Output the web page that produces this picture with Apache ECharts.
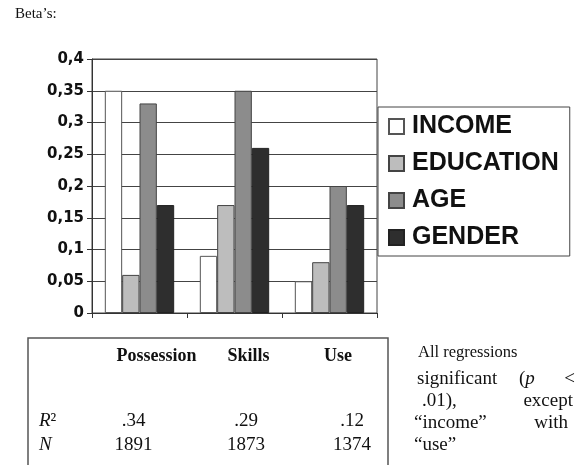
<!DOCTYPE html>
<html>
<head>
<meta charset="utf-8">
<script src="https://cdn.jsdelivr.net/npm/echarts@6/dist/echarts.min.js"></script>
<style>
  html, body { margin: 0; padding: 0; background: #fff; }
  #chart { width: 575px; height: 465px; }
</style>
</head>
<body>
<div id="chart"></div>
<script>
// ---- data ----
const categories = ['Possession', 'Skills', 'Use'];
const seriesNames = ['INCOME', 'EDUCATION', 'AGE', 'GENDER'];
const income = [0.35, 0.09, 0.05];
const education = [0.06, 0.17, 0.08];
const age = [0.33, 0.35, 0.20];
const gender = [0.17, 0.26, 0.17];
const rSquared = ['.34', '.29', '.12'];
const nValues = ['1891', '1873', '1374'];
const yMin = 0, yMax = 0.4, yStep = 0.05;
const titleText = 'Beta\u2019s:';

// ---- styling / layout ----
const fills = ['#ffffff', '#bdbdbd', '#8c8c8c', '#2e2e2e'];
const borders = ['#555555', '#444444', '#444444', '#222222'];
const values = [income, education, age, gender];

const serif = '"Liberation Serif", "Times New Roman", serif';
const headerX = [156.5, 248.5, 338];
const valueX = [133.5, 246, 352];

function txt(x, y, text, font, align, extra) {
  return Object.assign({
    type: 'text', x: x, y: y, silent: true,
    style: {
      text: text, font: font, fill: '#111',
      align: align || 'left', textAlign: align || 'left',
      verticalAlign: 'middle', textVerticalAlign: 'middle'
    }
  }, extra || {});
}

const graphics = [];
graphics.push(txt(15, 14, titleText, '15px ' + serif));
// table box (bottom edge falls outside the view)
graphics.push({
  type: 'rect', silent: true,
  shape: { x: 28, y: 338, width: 360, height: 150 },
  style: { fill: 'none', stroke: '#555', lineWidth: 1.5 }
});
categories.forEach(function (c, i) {
  graphics.push(txt(headerX[i], 356, c, 'bold 18px ' + serif, 'center'));
  graphics.push(txt(valueX[i], 421, rSquared[i], '19px ' + serif, 'center'));
  graphics.push(txt(valueX[i], 445, nValues[i], '19px ' + serif, 'center'));
});
graphics.push({
  type: 'text', x: 39, y: 421, silent: true,
  style: {
    text: '{i|R}{n|\u00b2}', verticalAlign: 'middle', textVerticalAlign: 'middle',
    rich: { i: { font: 'italic 19px ' + serif, fill: '#111' }, n: { font: '19px ' + serif, fill: '#111' } }
  }
});
graphics.push(txt(39, 445, 'N', 'italic 19px ' + serif));

// note on the right
graphics.push(txt(418, 353, 'All regressions', '16.5px ' + serif));
graphics.push(txt(417, 379, 'significant', '19px ' + serif));
graphics.push({
  type: 'text', x: 519, y: 379, silent: true,
  style: {
    text: '{n|(}{i|p}', verticalAlign: 'middle', textVerticalAlign: 'middle',
    rich: { i: { font: 'italic 19px ' + serif, fill: '#111' }, n: { font: '19px ' + serif, fill: '#111' } }
  }
});
graphics.push(txt(575, 379, '<', '19px ' + serif, 'right'));
graphics.push(txt(422, 401, '.01),', '19px ' + serif));
graphics.push(txt(573, 401, 'except', '19px ' + serif, 'right'));
graphics.push(txt(414, 423, '\u201cincome\u201d', '19px ' + serif));
graphics.push(txt(568, 423, 'with', '19px ' + serif, 'right'));
graphics.push(txt(414, 445, '\u201cuse\u201d', '19px ' + serif));

const chart = echarts.init(document.getElementById('chart'), null, { renderer: 'canvas' });
chart.setOption({
  animation: false,
  backgroundColor: '#fff',
  grid: {
    left: 92, right: 198, top: 59, bottom: 152,
    show: true, borderColor: '#444', borderWidth: 1, backgroundColor: 'transparent'
  },
  legend: {
    orient: 'vertical', left: 378, top: 107,
    padding: [7, 11, 6, 10], itemGap: 12, itemWidth: 15, itemHeight: 15,
    borderColor: '#444', borderWidth: 1, backgroundColor: '#fff',
    icon: 'rect',
    selectedMode: false,
    data: seriesNames,
    textStyle: {
      fontFamily: '"Liberation Sans", Arial, sans-serif', fontWeight: 'bold', fontSize: 25,
      color: '#111', lineHeight: 24, padding: [0, 0, 0, 3]
    }
  },
  xAxis: {
    type: 'category', data: categories,
    axisLine: { show: true, lineStyle: { color: '#333', width: 1 } },
    axisTick: { show: true, alignWithLabel: false, length: 5, lineStyle: { color: '#333' } },
    axisLabel: { show: false },
    splitLine: { show: false }
  },
  yAxis: {
    type: 'value', min: yMin, max: yMax, interval: yStep,
    axisLine: { show: true, lineStyle: { color: '#333', width: 1 } },
    axisTick: { show: true, length: 5, lineStyle: { color: '#333' } },
    axisLabel: {
      margin: 8, color: '#111', fontSize: 15, fontWeight: 'bold',
      fontFamily: '"DejaVu Sans", sans-serif',
      formatter: function (v) { return String(+(+v).toFixed(2)).replace('.', ','); }
    },
    splitLine: { show: true, lineStyle: { color: '#444', width: 1 } }
  },
  series: seriesNames.map(function (name, i) {
    return {
      name: name, type: 'bar', data: values[i],
      barGap: '0%', barCategoryGap: '27%',
      itemStyle: { color: fills[i], borderColor: borders[i], borderWidth: 1 },
      emphasis: { disabled: true }
    };
  }),
  graphic: { elements: graphics }
});
</script>
</body>
</html>
